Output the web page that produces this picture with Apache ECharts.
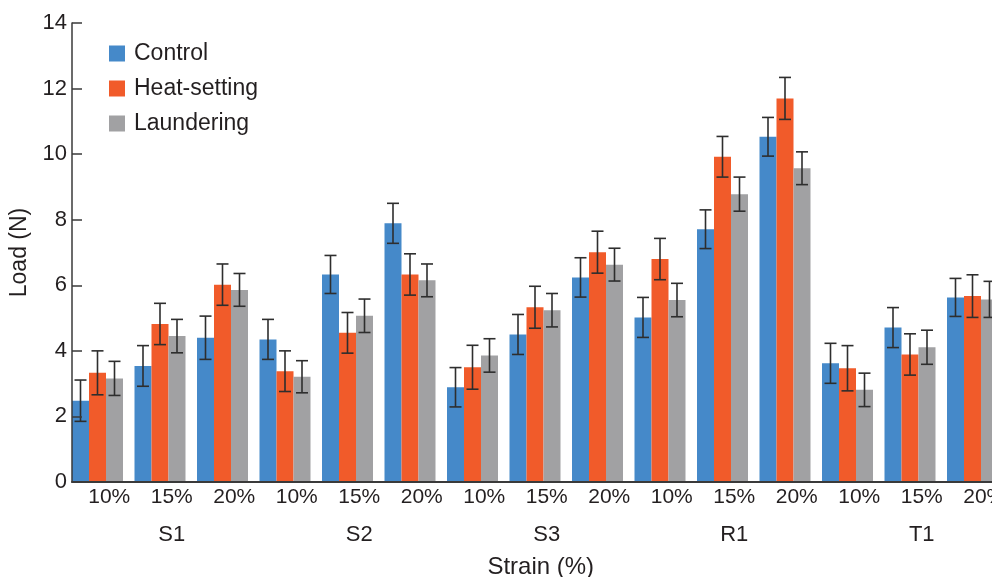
<!DOCTYPE html>
<html>
<head>
<meta charset="utf-8">
<script src="https://cdn.jsdelivr.net/npm/echarts@6/dist/echarts.min.js"></script>
<style>
html,body{margin:0;padding:0;background:#fff;}
#chart{width:992px;height:577px;}
</style>
</head>
<body>
<div id="chart"></div>
<script>
// ---- data ----
const strainLabels = ['10%','15%','20%','10%','15%','20%','10%','15%','20%','10%','15%','20%','10%','15%','20%'];
const groupLabels = ['S1','S2','S3','R1','T1'];
const seriesNames = ['Control','Heat-setting','Laundering'];
const control      = [2.48, 3.54, 4.40, 4.35, 6.33, 7.89, 2.89, 4.50, 6.24, 5.02, 7.71, 10.53, 3.62, 4.71, 5.63];
const heatSetting  = [3.33, 4.82, 6.02, 3.38, 4.55, 6.33, 3.50, 5.33, 7.01, 6.80, 9.92, 11.70, 3.47, 3.89, 5.67];
const laundering   = [3.16, 4.45, 5.86, 3.21, 5.07, 6.15, 3.86, 5.24, 6.63, 5.55, 8.78, 9.57, 2.81, 4.11, 5.57];
const controlErr     = [0.63, 0.62, 0.66, 0.61, 0.58, 0.61, 0.60, 0.61, 0.60, 0.61, 0.59, 0.59, 0.61, 0.61, 0.58];
const heatSettingErr = [0.67, 0.63, 0.63, 0.62, 0.62, 0.63, 0.67, 0.64, 0.64, 0.63, 0.62, 0.64, 0.69, 0.63, 0.65];
const launderingErr  = [0.52, 0.51, 0.50, 0.49, 0.51, 0.50, 0.51, 0.51, 0.50, 0.51, 0.52, 0.50, 0.51, 0.52, 0.55];
const yTicks = {min: 0, max: 14, interval: 2};

// ---- styles ----
const colors = ['#4589c9', '#f15b2a', '#a1a1a3'];
const FONT = '"Liberation Sans", Arial, sans-serif';
const TEXT = '#231f20';
const AXIS = '#3a3a3a';

function makeRender(k, color) {
  return function (params, api) {
    const i = api.value(0), v = api.value(1), e = api.value(2);
    const base = api.coord([i, 0]);
    const top = api.coord([i, v]);
    const band = api.size([1, 0])[0];
    const bw = band * 0.272;
    const x = base[0] - band / 2 + k * bw;
    const cx = x + bw / 2;
    const yt = api.coord([i, v + e])[1];
    const yb = api.coord([i, v - e])[1];
    const hc = 6;
    const ls = {stroke: '#2e2e2e', lineWidth: 1.6};
    return {
      type: 'group',
      children: [
        {type: 'rect', shape: {x: x, y: top[1], width: bw, height: base[1] - top[1]}, style: {fill: color}},
        {type: 'line', shape: {x1: cx, y1: yt, x2: cx, y2: yb}, style: ls},
        {type: 'line', shape: {x1: cx - hc, y1: yt, x2: cx + hc, y2: yt}, style: ls},
        {type: 'line', shape: {x1: cx - hc, y1: yb, x2: cx + hc, y2: yb}, style: ls}
      ]
    };
  };
}

const values = [control, heatSetting, laundering];
const errs = [controlErr, heatSettingErr, launderingErr];
const series = seriesNames.map((name, k) => ({
  name: name,
  type: 'custom',
  xAxisIndex: 0,
  yAxisIndex: 0,
  itemStyle: {color: colors[k]},
  encode: {x: 0, y: 1},
  renderItem: makeRender(k, colors[k]),
  data: values[k].map((v, i) => [i, v, errs[k][i]]),
  z: 2
}));

const chart = echarts.init(document.getElementById('chart'), null, {renderer: 'canvas'});
chart.setOption({
  backgroundColor: '#ffffff',
  animation: false,
  textStyle: {fontFamily: FONT},
  grid: {left: 72, top: 23, bottom: 95, right: -17.5, containLabel: false, outerBoundsMode: 'none'},
  legend: {
    orient: 'vertical',
    left: 109,
    top: 42,
    padding: 0,
    icon: 'rect',
    itemWidth: 16,
    itemHeight: 16,
    itemGap: 12,
    data: seriesNames,
    textStyle: {fontSize: 23, color: TEXT, fontFamily: FONT, padding: [0, 0, 0, 4]}
  },
  xAxis: [
    {
      type: 'category',
      data: strainLabels,
      z: 5,
      axisLine: {show: true, lineStyle: {color: AXIS, width: 2}},
      axisTick: {show: false},
      axisLabel: {fontSize: 21, color: TEXT, margin: 5, padding: [0, 0, 0, 12], fontFamily: FONT, interval: 0}
    },
    {
      type: 'category',
      data: groupLabels,
      position: 'bottom',
      axisLine: {show: false},
      axisTick: {show: false},
      axisLabel: {fontSize: 22, color: TEXT, margin: 42, padding: [0, 0, 0, 12], fontFamily: FONT, interval: 0},
      name: 'Strain (%)',
      nameLocation: 'middle',
      nameGap: 73,
      nameTextStyle: {fontSize: 24, color: TEXT, fontFamily: FONT}
    }
  ],
  yAxis: {
    type: 'value',
    min: yTicks.min,
    max: yTicks.max,
    interval: yTicks.interval,
    z: 5,
    axisLine: {show: true, lineStyle: {color: AXIS, width: 1.5}},
    axisTick: {show: true, inside: true, length: 10, lineStyle: {color: AXIS, width: 1.5}},
    axisLabel: {fontSize: 22, color: TEXT, margin: 5, fontFamily: FONT},
    splitLine: {show: false},
    name: 'Load (N)',
    nameLocation: 'middle',
    nameGap: 30,
    nameTextStyle: {fontSize: 23, color: TEXT, fontFamily: FONT}
  },
  series: series
});
</script>
</body>
</html>
